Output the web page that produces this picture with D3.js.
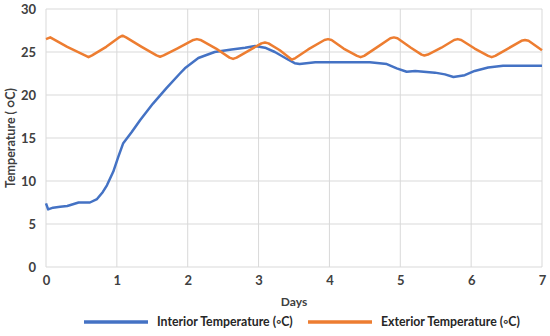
<!DOCTYPE html>
<html>
<head>
<meta charset="utf-8">
<script src="https://cdn.jsdelivr.net/npm/d3@7"></script>
<style>
  body { margin: 0; background: #fff; }
  text { font-family: Lato, "Open Sans", sans-serif; font-weight: bold; }
</style>
</head>
<body>
<div id="chart"></div>
<script>
// values (day, temperature)
var interiorDays = [0, 0.03, 0.1, 0.2, 0.3, 0.46, 0.62, 0.72, 0.8, 0.86, 0.95, 1.02, 1.09, 1.21, 1.33, 1.51, 1.7, 1.89, 1.96, 2.15, 2.38, 2.62, 2.81, 2.95, 3.09, 3.23, 3.42, 3.51, 3.58, 3.8, 4.2, 4.57, 4.81, 4.95, 5.09, 5.21, 5.49, 5.63, 5.75, 5.91, 6.05, 6.24, 6.45, 7];
var interiorTemps = [7.4, 6.7, 6.9, 7.0, 7.1, 7.5, 7.5, 7.9, 8.7, 9.5, 11.1, 12.8, 14.4, 15.7, 17.1, 19.0, 20.8, 22.5, 23.1, 24.3, 25.0, 25.3, 25.5, 25.7, 25.5, 25.0, 24.1, 23.7, 23.6, 23.8, 23.8, 23.8, 23.6, 23.1, 22.7, 22.8, 22.6, 22.4, 22.1, 22.3, 22.8, 23.2, 23.4, 23.4];

var exteriorDays = [0, 0.06, 0.3, 0.55, 0.6, 0.65, 0.85, 1.03, 1.08, 1.13, 1.35, 1.56, 1.61, 1.66, 1.85, 2.08, 2.13, 2.18, 2.4, 2.59, 2.64, 2.69, 2.85, 3.04, 3.09, 3.14, 3.3, 3.47, 3.52, 3.7, 3.93, 3.98, 4.03, 4.2, 4.39, 4.44, 4.49, 4.68, 4.86, 4.91, 4.96, 5.15, 5.3, 5.34, 5.39, 5.58, 5.76, 5.81, 5.86, 6.05, 6.24, 6.29, 6.34, 6.52, 6.71, 6.76, 6.81, 7];
var exteriorTemps = [26.5, 26.7, 25.6, 24.6, 24.4, 24.6, 25.6, 26.7, 26.9, 26.7, 25.6, 24.6, 24.45, 24.6, 25.4, 26.4, 26.5, 26.4, 25.4, 24.35, 24.2, 24.35, 25.1, 26.0, 26.1, 26.0, 25.2, 24.1, 24.3, 25.3, 26.4, 26.5, 26.4, 25.4, 24.55, 24.4, 24.55, 25.6, 26.6, 26.7, 26.6, 25.5, 24.7, 24.6, 24.7, 25.5, 26.4, 26.5, 26.4, 25.4, 24.55, 24.4, 24.55, 25.4, 26.3, 26.4, 26.3, 25.2];

var xTicks = [0, 1, 2, 3, 4, 5, 6, 7];
var yTicks = [0, 5, 10, 15, 20, 25, 30];
var seriesNames = ["Interior Temperature (\u25E6C)", "Exterior Temperature (\u25E6C)"];
var seriesColors = ["#4472C4", "#ED7D31"];

var width = 550, height = 336;
var margin = {top: 9, right: 8, bottom: 69, left: 46};

var svg = d3.select("#chart").append("svg")
    .attr("width", width)
    .attr("height", height);

var x = d3.scaleLinear().domain([0, 7]).range([margin.left, width - margin.right]);
var y = d3.scaleLinear().domain([0, 30]).range([height - margin.bottom, margin.top]);

// gridlines
svg.append("g")
    .selectAll("line.h")
    .data(yTicks)
    .enter().append("line")
    .attr("x1", x(0)).attr("x2", x(7))
    .attr("y1", function (d) { return y(d); })
    .attr("y2", function (d) { return y(d); })
    .attr("stroke", "#d9d9d9").attr("stroke-width", 1);
svg.append("g")
    .selectAll("line.v")
    .data(xTicks)
    .enter().append("line")
    .attr("y1", y(0)).attr("y2", y(30))
    .attr("x1", function (d) { return x(d); })
    .attr("x2", function (d) { return x(d); })
    .attr("stroke", "#d9d9d9").attr("stroke-width", 1);

// axes (labels only)
var yAxis = svg.append("g")
    .attr("transform", "translate(" + (x(0) - 10) + ",0)")
    .call(d3.axisLeft(y).tickValues(yTicks).tickSize(0).tickPadding(0));
yAxis.select(".domain").remove();
yAxis.selectAll("text").attr("font-size", 13).attr("fill", "#404040")
    .attr("font-family", "Lato, sans-serif").attr("font-weight", "bold");

var xAxis = svg.append("g")
    .attr("transform", "translate(0," + (y(0) + 9) + ")")
    .call(d3.axisBottom(x).tickValues(xTicks).tickFormat(d3.format("d")).tickSize(0).tickPadding(0));
xAxis.select(".domain").remove();
xAxis.selectAll("text").attr("font-size", 13).attr("fill", "#404040")
    .attr("font-family", "Lato, sans-serif").attr("font-weight", "bold");

// axis titles
svg.append("text")
    .attr("x", (x(0) + x(7)) / 2)
    .attr("y", 306)
    .attr("text-anchor", "middle")
    .attr("font-size", 12)
    .attr("fill", "#404040")
    .text("Days");
svg.append("text")
    .attr("transform", "translate(15," + ((y(0) + y(30)) / 2) + ") rotate(-90)")
    .attr("text-anchor", "middle")
    .attr("font-size", 12.5)
    .attr("fill", "#404040")
    .text("Temperature ( \u25CBC)");

// lines
var line = d3.line()
    .x(function (d) { return x(d[0]); })
    .y(function (d) { return y(d[1]); });

var series = [
    d3.zip(interiorDays, interiorTemps),
    d3.zip(exteriorDays, exteriorTemps)
];

svg.selectAll("path.series")
    .data(series)
    .enter().append("path")
    .attr("class", "series")
    .attr("d", line)
    .attr("fill", "none")
    .attr("stroke", function (d, i) { return seriesColors[i]; })
    .attr("stroke-width", 2.5)
    .attr("stroke-linejoin", "round");

// legend
var legendX = [84, 308];
var legend = svg.selectAll("g.legend")
    .data(seriesNames)
    .enter().append("g")
    .attr("class", "legend")
    .attr("transform", function (d, i) { return "translate(" + legendX[i] + ",322)"; });
legend.append("line")
    .attr("x1", 0).attr("x2", 64)
    .attr("stroke", function (d, i) { return seriesColors[i]; })
    .attr("stroke-width", 3.5);
legend.append("text")
    .attr("x", 73)
    .attr("dy", "0.35em")
    .attr("font-size", 12.3)
    .attr("fill", "#262626")
    .text(function (d) { return d; });
</script>
</body>
</html>
